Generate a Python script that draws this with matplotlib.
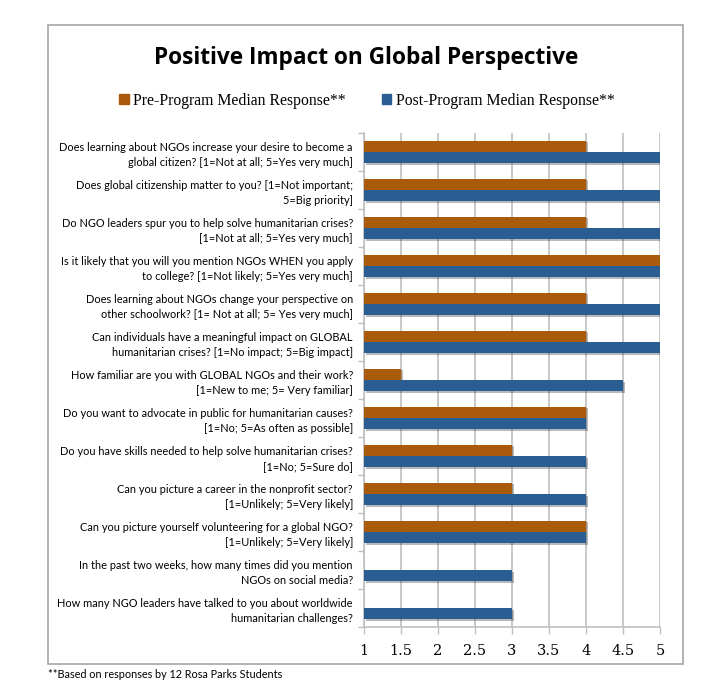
import numpy as np
import matplotlib.pyplot as plt
from matplotlib.patches import Patch, Rectangle
import matplotlib.patheffects as pe

questions = [
    "Does learning about NGOs increase your desire to become a\nglobal citizen? [1=Not at all; 5=Yes very much]",
    "Does global citizenship matter to you? [1=Not important;\n5=Big priority]",
    "Do NGO leaders spur you to help solve humanitarian crises?\n[1=Not at all; 5=Yes very much]",
    "Is it likely that you will you mention NGOs WHEN you apply\nto college? [1=Not likely; 5=Yes very much]",
    "Does learning about NGOs change your perspective on\nother schoolwork? [1= Not at all; 5= Yes very much]",
    "Can individuals have a meaningful impact on GLOBAL\nhumanitarian crises? [1=No impact; 5=Big impact]",
    "How familiar are you with GLOBAL NGOs and their work?\n[1=New to me; 5= Very familiar]",
    "Do you want to advocate in public for humanitarian causes?\n[1=No; 5=As often as possible]",
    "Do you have skills needed to help solve humanitarian crises?\n[1=No; 5=Sure do]",
    "Can you picture a career in the nonprofit sector?\n[1=Unlikely; 5=Very likely]",
    "Can you picture yourself volunteering for a global NGO?\n[1=Unlikely; 5=Very likely]",
    "In the past two weeks, how many times did you mention\nNGOs on social media?",
    "How many NGO leaders have talked to you about worldwide\nhumanitarian challenges?",
]
pre = [4, 4, 4, 5, 4, 4, 1.5, 4, 3, 3, 4, np.nan, np.nan]
post = [5, 5, 5, 5, 5, 5, 4.5, 4, 4, 4, 4, 3, 3]
xticks = [1, 1.5, 2, 2.5, 3, 3.5, 4, 4.5, 5]

c_pre = "#A95A0B"
c_post = "#2A5D91"
grid_c = "#BFBFBF"

fig = plt.figure(figsize=(7.19, 6.86), dpi=100)
ax = fig.add_axes([364 / 719, 1 - 627 / 686, 296 / 719, 494 / 686])

y = np.arange(len(questions))
h = 0.3
shadow = [pe.SimplePatchShadow(offset=(1.2, -1.2), alpha=0.3), pe.Normal()]
pre_arr = np.array(pre, float)
post_arr = np.array(post, float)
b1 = ax.barh(y - h / 2, pre_arr - 1, left=1, height=h, color=c_pre,
             linewidth=0, zorder=3)
b2 = ax.barh(y + h / 2, post_arr - 1, left=1, height=h, color=c_post,
             linewidth=0, zorder=3)
for b in list(b1) + list(b2):
    b.set_path_effects(shadow)

ax.set_xlim(1, 5)
ax.set_ylim(len(questions) - 0.5, -0.5)
ax.set_xticks(xticks)
ax.set_xticklabels([f"{t:g}" for t in xticks], family="DejaVu Serif", fontsize=10.5)
ax.set_yticks(y)
ax.set_yticklabels(questions, fontsize=7.95, family="Lato", linespacing=1.4)
ax.set_yticks(np.arange(len(questions) + 1) - 0.5, minor=True)
ax.tick_params(axis="y", which="major", length=0, pad=8)
ax.tick_params(axis="y", which="minor", length=4, color=grid_c, width=1)
ax.tick_params(axis="x", length=5, color=grid_c, width=1, pad=7, direction="out")
ax.grid(axis="x", color=grid_c, linewidth=1.2, zorder=0)
ax.set_axisbelow(True)
for s in ["top", "right"]:
    ax.spines[s].set_visible(False)
for s in ["left", "bottom"]:
    ax.spines[s].set_color(grid_c)
    ax.spines[s].set_linewidth(1.2)

fig.text(366 / 719, 1 - 58 / 686, "Positive Impact on Global Perspective",
         ha="center", va="center", fontsize=16.3, fontweight="bold", family="Open Sans")

handles = [Patch(color=c_pre), Patch(color=c_post)]
fig.legend(handles, ["Pre-Program Median Response**", "Post-Program Median Response**"],
           loc="center", bbox_to_anchor=(367 / 719, 1 - 101 / 686), ncol=2,
           frameon=False, handlelength=0.6, handleheight=0.6, handletextpad=0.3,
           columnspacing=2.3, prop={"family": "Liberation Serif", "size": 11.3})

fig.patches.append(Rectangle((48 / 719, 1 - 664 / 686), 635 / 719, 639 / 686,
                             transform=fig.transFigure, fill=False,
                             edgecolor="#A6A6A6", linewidth=1.2))
fig.text(48 / 719, 1 - 675 / 686, "**Based on responses by 12 Rosa Parks Students",
         ha="left", va="center", fontsize=7.8, family="Lato")

fig.savefig("out.png", dpi=100)
